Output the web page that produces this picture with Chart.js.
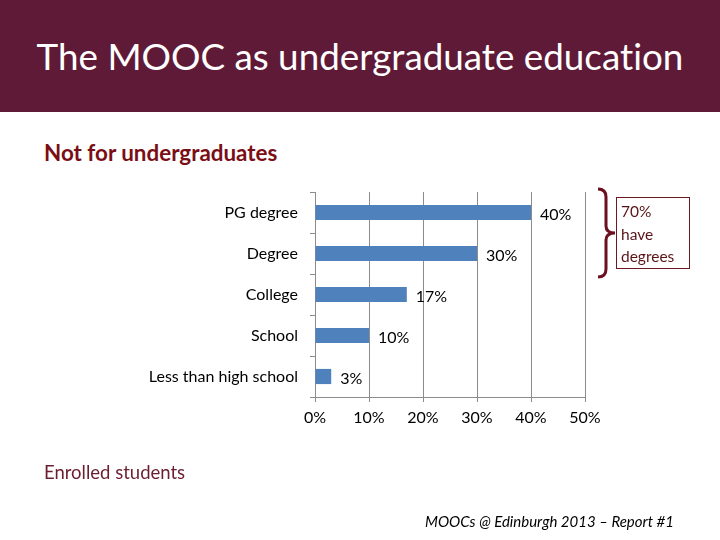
<!DOCTYPE html>
<html>
<head>
<meta charset="utf-8">
<script src="https://cdn.jsdelivr.net/npm/chart.js@4.4.0/dist/chart.umd.min.js"></script>
<style>
  html, body { margin: 0; padding: 0; width: 720px; height: 540px; background: #ffffff; overflow: hidden; }
  body { position: relative; font-family: Lato, "Open Sans", sans-serif; font-variant-ligatures: none; font-feature-settings: "liga" 0, "clig" 0; }
  #banner { position: absolute; left: 0; top: 0; width: 720px; height: 112px; background: #5E1A36; }
  #title { position: absolute; left: 0; top: 0; width: 720px; height: 112px; line-height: 112px; text-align: center; color: #ffffff; font-size: 36.8px; margin-top: 0px; }
  #subtitle { position: absolute; left: 44px; top: 139px; font-size: 22.4px; font-weight: bold; color: #7A0E16; }
  #enrolled { position: absolute; left: 44px; top: 461px; font-size: 18.5px; color: #6B1E30; }
  #footer { position: absolute; left: 425px; top: 512px; font-size: 15px; font-style: italic; color: #000; }
  #chartWrap { position: absolute; left: 0; top: 0; width: 720px; height: 540px; }
  #note { position: absolute; left: 0; top: 0; }
  .nt { position: absolute; left: 621px; font-size: 15.5px; color: #5A1418; }
</style>
</head>
<body>
<div id="banner"></div>
<div id="title">The MOOC as undergraduate education</div>
<div id="subtitle">Not for undergraduates</div>
<div id="chartWrap"><canvas id="c" width="720" height="540"></canvas></div>
<svg id="note" width="720" height="540">
  <path d="M598,189 Q606,189 606,197 L606,226 Q606,233 615,233 Q606,233 606,240 L606,269 Q606,277 598,277" fill="none" stroke="#6B1020" stroke-width="3"/>
  <rect x="616.5" y="197.5" width="73" height="71" fill="none" stroke="#6B1A22" stroke-width="1"/>
</svg>
<div class="nt" style="top:202px">70%</div>
<div class="nt" style="top:225px">have</div>
<div class="nt" style="top:247px">degrees</div>
<div id="enrolled">Enrolled students</div>
<div id="footer">MOOCs @ Edinburgh 2013 – Report #1</div>
<script>
const categories = ["PG degree", "Degree", "College", "School", "Less than high school"];
const values = [40, 30, 17, 10, 3];
const axisTicks = [0, 10, 20, 30, 40, 50];

const valueLabels = {
  id: 'valueLabels',
  afterDatasetsDraw(chart) {
    const ctx = chart.ctx;
    const meta = chart.getDatasetMeta(0);
    ctx.save();
    ctx.font = '16px Lato, "Open Sans", sans-serif';
    ctx.fillStyle = '#000';
    ctx.textAlign = 'left';
    ctx.textBaseline = 'middle';
    meta.data.forEach((bar, i) => {
      ctx.fillText(values[i] + '%', bar.x + 9, bar.y + 2);
    });
    ctx.restore();
  }
};

new Chart(document.getElementById('c'), {
  type: 'bar',
  data: {
    labels: categories,
    datasets: [{
      data: values,
      backgroundColor: '#4F81BD',
      borderWidth: 0,
      categoryPercentage: 1.0,
      barPercentage: 0.37
    }]
  },
  options: {
    indexAxis: 'y',
    responsive: false,
    animation: false,
    events: [],
    layout: { padding: { top: 192, right: 135, left: 0, bottom: 0 } },
    plugins: { legend: { display: false }, tooltip: { enabled: false } },
    scales: {
      x: {
        min: axisTicks[0],
        max: axisTicks[axisTicks.length - 1],
        afterBuildTicks(scale) { scale.ticks = axisTicks.map(v => ({ value: v })); },
        afterFit(scale) { scale.height = 143; },
        grid: { color: '#8C8C8C', lineWidth: 1, drawTicks: true, tickLength: 5, tickColor: '#8C8C8C' },
        border: { color: '#8C8C8C', width: 1 },
        ticks: {
          padding: 6,
          color: '#000',
          font: { family: 'Lato, "Open Sans", sans-serif', size: 16 },
          callback: v => v + '%'
        }
      },
      y: {
        afterFit(scale) { scale.width = 315; },
        grid: { drawOnChartArea: false, drawTicks: true, tickLength: 5, color: '#8C8C8C', offset: true },
        border: { color: '#8C8C8C', width: 1 },
        ticks: {
          padding: 12,
          color: '#000',
          font: { family: 'Lato, "Open Sans", sans-serif', size: 16 }
        }
      }
    }
  },
  plugins: [valueLabels]
});
</script>
</body>
</html>
